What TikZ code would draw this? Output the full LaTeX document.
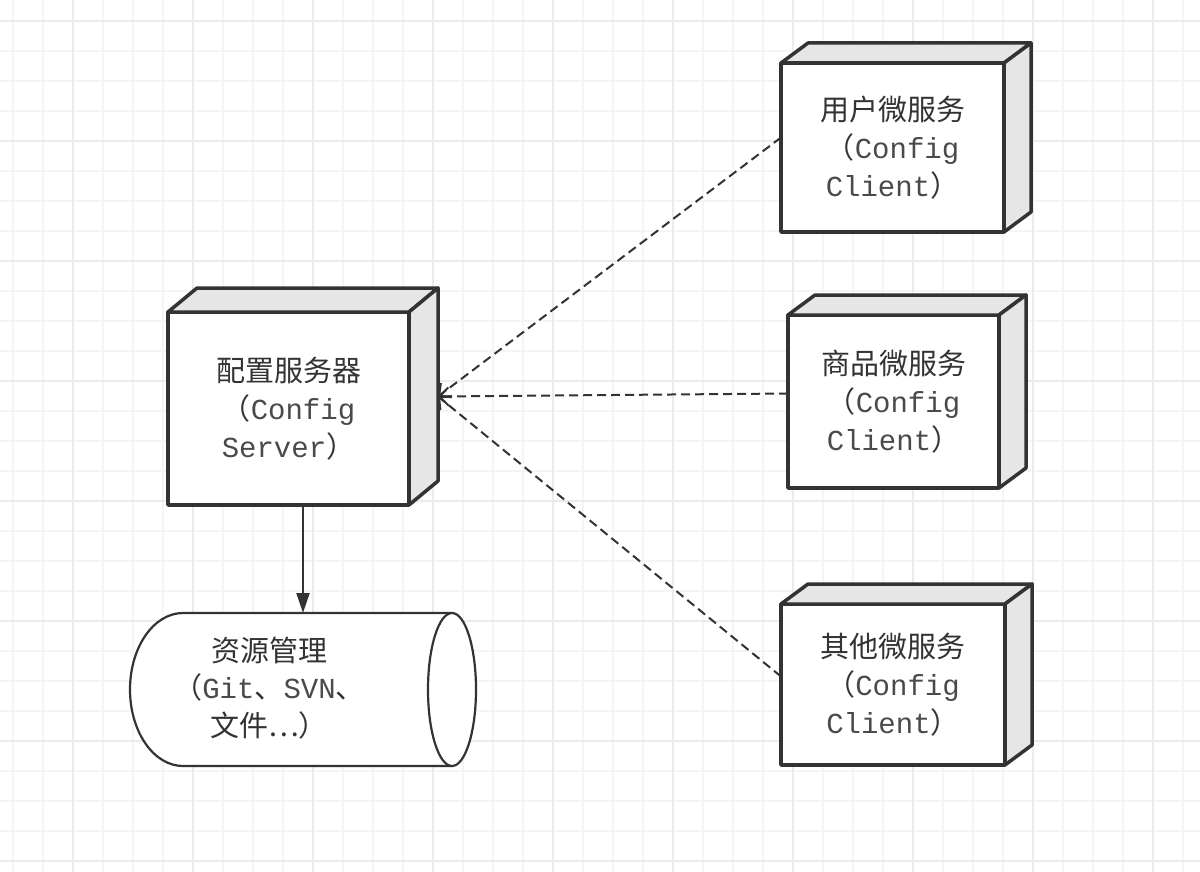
\documentclass[tikz,border=0pt]{standalone}
\usepackage{fontspec}
\setmonofont{Liberation Mono}
\newfontfamily\cjk{Noto Sans CJK SC}
\usetikzlibrary{arrows.meta,calc}

\definecolor{ink}{HTML}{333333}
\definecolor{monoink}{HTML}{4A4A4A}
\definecolor{gridlo}{HTML}{F5F5F5}
\definecolor{gridhi}{HTML}{EBEBEB}
\definecolor{sideface}{HTML}{E6E6E6}
\newcommand{\zh}[1]{{\cjk #1}}
\newcommand{\en}[1]{{\color{monoink}\ttfamily #1}}

\tikzset{
  front/.style={draw=ink, fill=white, line width=3.5pt, line join=round, inner sep=0pt, outer sep=0pt},
  face/.style={draw=ink, fill=sideface, line width=3.5pt, line join=round},
  lbl/.style={text=ink, align=center, font=\fontsize{29}{37.7}\selectfont},
  cylbox/.style={minimum width=346pt, minimum height=153pt, inner sep=0pt, outer sep=0pt},
  cylline/.style={draw=ink, line width=2.2pt},
  dep/.style={draw=ink, line width=2pt, dash pattern=on 9pt off 5pt, -{Straight Barb[length=9pt,width=18pt]}},
  flow/.style={draw=ink, line width=2pt, -{Triangle[length=20pt,width=13pt]}},
}

% top and side faces of a 3d box: node, dx, dy
\newcommand{\boxdepth}[3]{%
  \draw[face] (#1.north west) -- ++(#2,#3) -- ($(#1.north east)+(#2,#3)$) -- (#1.north east) -- cycle;
  \draw[face] (#1.north east) -- ($(#1.north east)+(#2,#3)$) -- ($(#1.south east)+(#2,#3)$) -- (#1.south east) -- cycle;
}

\begin{document}
\begin{tikzpicture}[x=1pt, y=-1pt]
\useasboundingbox (0,0) rectangle (1200,872);
\fill[white] (0,0) rectangle (1200,872);

% grid
\foreach \x in {13,43,...,1193} \draw[gridlo, line width=1.5pt] (\x,0) -- (\x,872);
\foreach \y in {21,51,...,861} \draw[gridlo, line width=1.5pt] (0,\y) -- (1200,\y);
\foreach \x in {73,193,...,1153} \draw[gridhi, line width=1.5pt] (\x,0) -- (\x,872);
\foreach \y in {21,141,...,861} \draw[gridhi, line width=1.5pt] (0,\y) -- (1200,\y);

% config server
\node[front, lbl, minimum width=241pt, minimum height=193pt] (srv) at (288.5,408.5)
  {\zh{配置服务器}\\\zh{（}\en{Config}\\\en{Server}\zh{）}};
\boxdepth{srv}{29}{-24}
\coordinate (srvE) at ($(srv.east)+(29,-12)$);

% clients
\node[front, lbl, minimum width=223pt, minimum height=169pt] (c1) at (892.5,147.5)
  {\zh{用户微服务}\\\zh{（}\en{Config}\\\en{Client}\zh{）}};
\boxdepth{c1}{27}{-20}
\node[front, lbl, minimum width=211pt, minimum height=173pt] (c2) at (893.5,401.5)
  {\zh{商品微服务}\\\zh{（}\en{Config}\\\en{Client}\zh{）}};
\boxdepth{c2}{27}{-20}
\node[front, lbl, minimum width=224pt, minimum height=161pt] (c3) at (893,684.5)
  {\zh{其他微服务}\\\zh{（}\en{Config}\\\en{Client}\zh{）}};
\boxdepth{c3}{27}{-20}

% repository
\node[cylbox] (repo) at (303,689.5) {};
\fill[white] (183,613) -- (452,613) -- (452,766) -- (183,766) .. controls (153.7,766) and (130,731.8) .. (130,689.5)
  .. controls (130,647.2) and (153.7,613) .. (183,613) -- cycle;
\draw[cylline] (452,613) -- (183,613) .. controls (153.7,613) and (130,647.2) .. (130,689.5)
  .. controls (130,731.8) and (153.7,766) .. (183,766) -- (452,766);
\draw[cylline, fill=white] (452,689.5) ellipse [x radius=24, y radius=76.5];
\node[lbl] (repotext) at (269,688) {\zh{资源管理}\\\zh{（}\en{Git}\zh{、}\en{SVN}\zh{、}\\\zh{文件…）}};

% connectors
\draw[flow] ([xshift=14.5pt]srv.south) -- (repo.north);
\draw[dep] ([yshift=10pt]c1.west) -- (srvE);
\draw[dep] ([yshift=8pt]c2.west) -- (srvE);
\draw[dep] ([yshift=8pt]c3.west) -- (srvE);
\end{tikzpicture}
\end{document}
